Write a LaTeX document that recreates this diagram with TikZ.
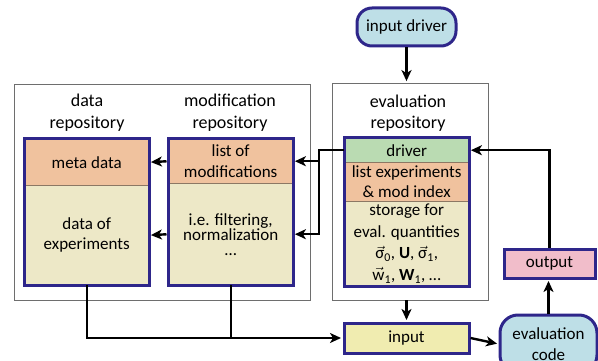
\documentclass[tikz,border=0pt]{standalone}
\usepackage{amsmath}
\usepackage{fontspec}
\setmainfont{Carlito}
\usetikzlibrary{fit,arrows.meta}

\definecolor{navy}{RGB}{46,38,138}
\definecolor{peach}{RGB}{240,194,158}
\definecolor{beige}{RGB}{237,232,199}
\definecolor{mint}{RGB}{186,219,178}
\definecolor{sky}{RGB}{190,223,231}
\definecolor{rose}{RGB}{241,189,202}
\definecolor{straw}{RGB}{240,236,176}
\definecolor{rim}{RGB}{110,110,110}
\definecolor{seam}{RGB}{140,120,100}

\newcommand{\boxfont}{\fontsize{17}{20.5}\selectfont}

\tikzset{
  repo/.style={draw=rim, line width=0.8pt, fill=white},
  part/.style={inner sep=0pt, align=center, anchor=north west, minimum width=125pt, font=\boxfont},
  frame/.style={draw=navy, line width=3pt, inner sep=0pt},
  heading/.style={align=center, font=\fontsize{18}{21.5}\selectfont},
  pill/.style={draw=navy, line width=3pt, fill=sky, rounded corners=15pt, align=center, inner sep=0pt, font=\boxfont},
  slot/.style={draw=navy, line width=3pt, align=center, inner sep=0pt, font=\boxfont},
  conn/.style={line width=2.4pt, -{Stealth[length=11pt,width=10pt,inset=3pt]}, shorten >=1.5pt},
  wire/.style={line width=2.4pt},
}

\begin{document}
\begin{tikzpicture}[x=1pt,y=-1pt]
\useasboundingbox (0,0) rectangle (598,361);

% repositories
\node[repo, minimum width=296pt, minimum height=216pt] (datarepo) at (162,192) {};
\node[repo, minimum width=156pt, minimum height=217pt] (evalrepo) at (410,191.5) {};

\node[heading] (dataname) at (87,112.5) {data\\repository};
\node[heading] (modname) at (230,112.5) {modification\\repository};
\node[heading] (evalname) at (408,113) {evaluation\\repository};

% data repository
\node[part, fill=peach, minimum height=46pt] (meta) at (24,139) {meta data};
\node[part, fill=beige, minimum height=100pt] (dataexp) at (24,185) {data of\\experiments};
\draw[seam, line width=0.8pt] (meta.south west) -- (meta.south east);
\node[frame, fit=(meta)(dataexp)] (databox) {};

% modification repository
\node[part, fill=peach, minimum height=44pt] (modlist) at (168,139) {list of\\modifications};
\node[part, fill=beige, minimum height=102pt, font=\fontsize{17}{15}\selectfont] (modexp) at (168,183) {i.e. filtering,\\normalization\\\dots};
\draw[seam, line width=0.8pt] (modlist.south west) -- (modlist.south east);
\node[frame, fit=(modlist)(modexp)] (modbox) {};

% evaluation repository
\node[part, fill=mint, minimum height=24pt] (driver) at (344,138) {driver};
\node[part, fill=peach, minimum height=39pt] (evallist) at (344,162) {list experiments\\\& mod index};
\node[part, fill=beige, minimum height=85pt, font=\fontsize{17}{21.5}\selectfont] (storage) at (344,201)
  {storage for\\eval. quantities\\
   \(\vec{\text{σ}}\)\textsubscript{0}, \textbf{U}, \(\vec{\text{σ}}\)\textsubscript{1},\\
   \(\vec{\text{w}}\)\textsubscript{1}, \textbf{W}\textsubscript{1}, \dots};
\draw[seam, line width=0.8pt] (driver.south west) -- (driver.south east);
\draw[seam, line width=0.8pt] (evallist.south west) -- (evallist.south east);
\node[frame, fit=(driver)(storage)] (evalbox) {};

% in and out
\node[pill, minimum width=99pt, minimum height=38pt] (indriver) at (406.5,27) {input driver};
\node[slot, fill=straw, minimum width=125pt, minimum height=30pt] (input) at (406.5,338) {input};
\node[slot, fill=rose, minimum width=91pt, minimum height=29pt] (output) at (549.5,263.5) {output};
\node[pill, minimum width=97pt, minimum height=58pt, rounded corners=18pt] (evalcode) at (548.5,344) {evaluation\\code};

% connectors
\coordinate (bus) at (319,0);
\draw[conn] (indriver.south) -- (indriver.south |- evalrepo.north);
\draw[conn] (driver.west) -| (bus |- modexp.east) -- (modexp.east);
\draw[conn] (bus |- modlist.east) -- (modlist.east);
\draw[conn, shorten <=1.5pt] (modlist.west) -- (meta.east);
\draw[conn, shorten <=1.5pt] (modexp.west) -- (dataexp.east);
\draw[conn] (dataexp.south) |- (input.west);
\draw[wire] (modexp.south) -- (modexp.south |- input.west);
\draw[conn] (input.north |- evalrepo.south) -- (input.north);
\draw[conn] (input.east) -- (evalcode.west);
\draw[conn] (evalcode.north) -- (evalcode.north |- output.south);
\draw[conn] (output.north) |- (driver.east);
\end{tikzpicture}
\end{document}
